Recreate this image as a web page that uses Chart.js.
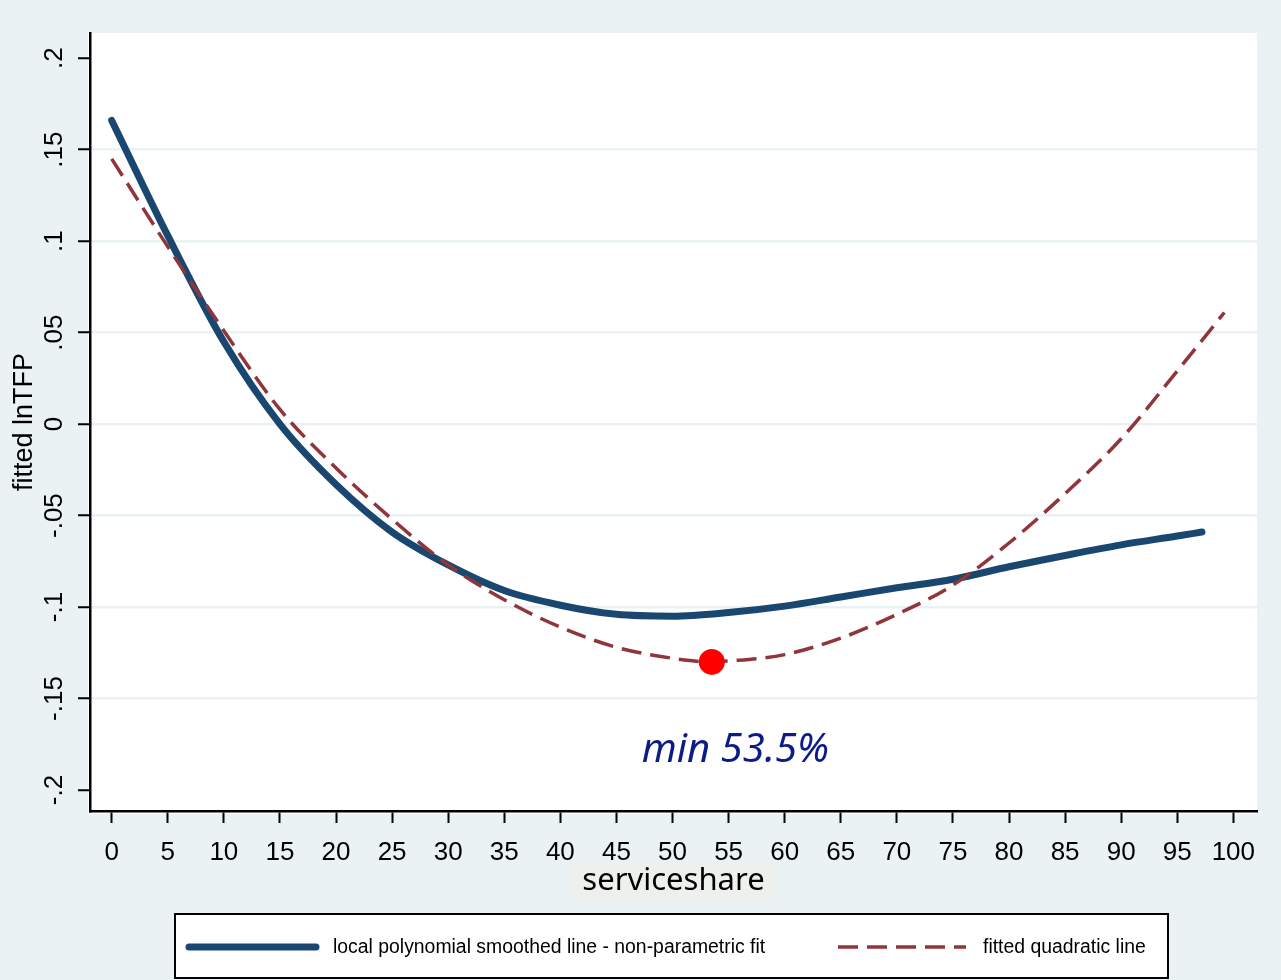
<!DOCTYPE html>
<html>
<head>
<meta charset="utf-8">
<title>fitted lnTFP by serviceshare</title>
<script src="https://cdn.jsdelivr.net/npm/chart.js@4.4.1/dist/chart.umd.min.js"></script>
<style>
  html, body { margin: 0; padding: 0; background: #EAF2F3; }
  #wrap { width: 1281px; height: 980px; }
</style>
</head>
<body>
<div id="wrap"><canvas id="fitChart" width="1281" height="980"></canvas></div>
<script>
// local polynomial smooth of lnTFP on serviceshare
const smoothX = [0, 5, 10, 15, 20, 25, 30, 35, 40, 45, 50, 55, 60, 65, 70, 75, 80, 85, 90, 95, 97.2];
const smoothY = [0.166, 0.103, 0.045, 0.000, -0.033, -0.059, -0.077, -0.091, -0.099, -0.104, -0.105,
                 -0.103, -0.0995, -0.0945, -0.0895, -0.0848, -0.078, -0.0718, -0.066, -0.0612, -0.059];

// quadratic fit
const quadX = [0, 5, 10, 15, 20, 25, 30, 35, 40, 45, 50, 53.5, 55, 60, 65, 70, 75, 80, 85, 90, 95, 99.2];
const quadY = [0.145, 0.097, 0.051, 0.008, -0.024, -0.052, -0.077, -0.096, -0.111, -0.122, -0.128, -0.130,
               -0.1295, -0.126, -0.117, -0.104, -0.088, -0.065, -0.038, -0.008, 0.029, 0.061];

// turning point of the quadratic
const minX = [53.5];
const minY = [-0.130];
const minLabel = 'min 53.5%';

const xTicks = [0, 5, 10, 15, 20, 25, 30, 35, 40, 45, 50, 55, 60, 65, 70, 75, 80, 85, 90, 95, 100];
const xTickLabels = xTicks.map(String);
const yTicks = [-0.2, -0.15, -0.1, -0.05, 0, 0.05, 0.1, 0.15, 0.2];
const yTickLabels = ['-.2', '-.15', '-.1', '-.05', '0', '.05', '.1', '.15', '.2'];

const legendLabels = ['local polynomial smoothed line - non-parametric fit', 'fitted quadratic line'];

const NAVY = '#1A476F';
const CRANBERRY = '#90353B';
const BG = '#EAF2F3';
const ARIAL = '"Liberation Sans", Arial, sans-serif';

const toPoints = (xs, ys) => xs.map((x, i) => ({ x: x, y: ys[i] }));

// graph region, plot region and the little box behind the x title
const backdrop = {
    id: 'backdrop',
    beforeDraw(chart) {
        const { ctx, chartArea: a } = chart;
        ctx.save();
        ctx.fillStyle = BG;
        ctx.fillRect(0, 0, chart.width, chart.height);
        ctx.fillStyle = '#ffffff';
        ctx.fillRect(a.left - 2, a.top, a.right - a.left + 2, a.bottom - a.top + 3);

        const xs = chart.scales.x;
        ctx.font = '31px "Noto Sans", sans-serif';
        const w = ctx.measureText(xs.options.title.text).width;
        const cx = (a.left + a.right) / 2;
        const cy = xs.bottom - 30;
        ctx.fillStyle = '#EEF0EE';
        ctx.fillRect(cx - w / 2 - 10, cy - 20, w + 20, 40);
        ctx.restore();
    }
};

// "min" note under the turning point
const minNote = {
    id: 'minNote',
    afterDatasetsDraw(chart) {
        const { ctx, scales: { x, y } } = chart;
        ctx.save();
        ctx.font = 'italic 40px "Noto Sans", sans-serif';
        ctx.fillStyle = '#0C1B87';
        ctx.textAlign = 'center';
        ctx.textBaseline = 'alphabetic';
        ctx.fillText(minLabel, x.getPixelForValue(55.6), y.getPixelForValue(-0.1845));
        ctx.restore();
    }
};

// boxed legend along the bottom
const boxLegend = {
    id: 'boxLegend',
    afterDraw(chart) {
        const { ctx } = chart;
        const top = 914, left = 175, width = 993, height = 64;
        const midY = top + 33;
        ctx.save();
        ctx.fillStyle = '#ffffff';
        ctx.fillRect(left, top, width, height);
        ctx.strokeStyle = '#000';
        ctx.lineWidth = 2;
        ctx.strokeRect(left, top, width, height);

        const items = [
            { x0: 189, x1: 316, tx: 333, ds: chart.data.datasets[2] },
            { x0: 838, x1: 966, tx: 983, ds: chart.data.datasets[1] }
        ];
        items.forEach((it, i) => {
            ctx.beginPath();
            ctx.strokeStyle = it.ds.borderColor;
            ctx.lineWidth = it.ds.borderWidth;
            ctx.lineCap = it.ds.borderCapStyle || 'butt';
            ctx.setLineDash(it.ds.borderDash || []);
            ctx.moveTo(it.x0, midY);
            ctx.lineTo(it.x1, midY);
            ctx.stroke();
            ctx.setLineDash([]);
            ctx.fillStyle = '#000';
            ctx.font = '19.4px ' + ARIAL;
            ctx.textAlign = 'left';
            ctx.textBaseline = 'middle';
            ctx.fillText(legendLabels[i], it.tx, midY + 1);
        });
        ctx.restore();
    }
};

new Chart(document.getElementById('fitChart'), {
    type: 'scatter',
    data: {
        datasets: [
            {
                label: 'minimum',
                data: toPoints(minX, minY),
                pointRadius: 13,
                pointHoverRadius: 13,
                backgroundColor: '#FF0000',
                borderWidth: 0,
                order: 0
            },
            {
                label: legendLabels[1],
                data: toPoints(quadX, quadY),
                showLine: true,
                pointRadius: 0,
                borderColor: CRANBERRY,
                borderWidth: 3.5,
                borderDash: [20, 9],
                cubicInterpolationMode: 'monotone',
                order: 1
            },
            {
                label: legendLabels[0],
                data: toPoints(smoothX, smoothY),
                showLine: true,
                pointRadius: 0,
                borderColor: NAVY,
                borderWidth: 7,
                borderCapStyle: 'round',
                borderJoinStyle: 'round',
                cubicInterpolationMode: 'monotone',
                order: 2
            }
        ]
    },
    options: {
        responsive: false,
        animation: false,
        devicePixelRatio: 1,
        layout: { padding: { left: 0, right: 24, top: 33, bottom: 69 } },
        plugins: {
            legend: { display: false },
            tooltip: { enabled: false }
        },
        scales: {
            x: {
                type: 'linear',
                min: -1.935,
                max: 102.11,
                afterBuildTicks: (s) => { s.ticks = xTicks.map(v => ({ value: v })); },
                afterFit: (s) => { s.height = 100; },
                ticks: {
                    autoSkip: false,
                    maxRotation: 0,
                    padding: 14,
                    color: '#000',
                    font: { family: ARIAL, size: 26 },
                    callback: (v, i) => xTickLabels[i]
                },
                grid: {
                    drawOnChartArea: false,
                    tickLength: 12,
                    tickWidth: 2,
                    tickColor: '#000'
                },
                border: { display: true, color: '#000', width: 2.5 },
                title: {
                    display: true,
                    text: 'serviceshare',
                    color: '#000',
                    font: { family: '"Noto Sans", sans-serif', size: 31 },
                    padding: { top: 0, bottom: 11 }
                }
            },
            y: {
                type: 'linear',
                min: -0.2115,
                max: 0.2138,
                afterBuildTicks: (s) => { s.ticks = yTicks.map(v => ({ value: v })); },
                afterFit: (s) => { s.width = 90; },
                ticks: {
                    autoSkip: false,
                    minRotation: 90,
                    maxRotation: 90,
                    crossAlign: 'center',
                    padding: 1,
                    color: '#000',
                    font: { family: ARIAL, size: 26 },
                    callback: (v, i) => yTickLabels[i]
                },
                grid: {
                    color: (c) => (c.tick && Math.abs(c.tick.value) > 0.19 ? 'rgba(0,0,0,0)' : BG),
                    lineWidth: 2.5,
                    tickLength: 12,
                    tickWidth: 2,
                    tickColor: '#000'
                },
                border: { display: true, color: '#000', width: 2.5 },
                title: {
                    display: true,
                    text: 'fitted lnTFP',
                    color: '#000',
                    font: { family: ARIAL, size: 27 },
                    padding: { top: 8, bottom: 0 }
                }
            }
        }
    },
    plugins: [backdrop, minNote, boxLegend]
});
</script>
</body>
</html>
